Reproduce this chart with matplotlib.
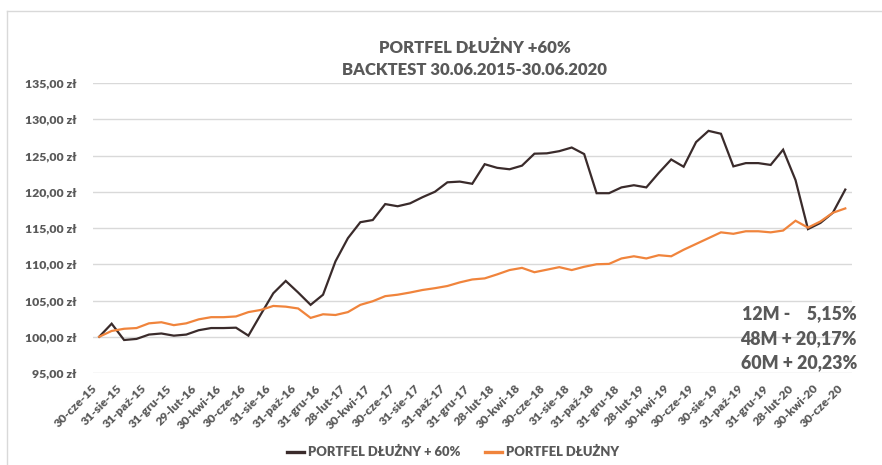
import matplotlib
matplotlib.use("Agg")
import matplotlib.pyplot as plt
from matplotlib.lines import Line2D

plt.rcParams["font.family"] = ["Lato", "DejaVu Sans"]

TEXT = "#595959"
GRID = "#D9D9D9"
DARK = "#3A2B2B"
ORANGE = "#F0843C"

# monthly values, 30.06.2015 - 30.06.2020
portfel_60 = [
	100.0, 101.8, 99.55, 99.7, 100.3, 100.45, 100.15, 100.3, 100.9, 101.2,
	101.2, 101.25, 100.15, 103.1, 106.0, 107.7, 106.1, 104.4, 105.8, 110.4,
	113.6, 115.8, 116.1, 118.3, 118.0, 118.4, 119.25, 120.0, 121.3, 121.4,
	121.1, 123.8, 123.3, 123.1, 123.6, 125.25, 125.3, 125.6, 126.1, 125.2,
	119.8, 119.8, 120.6, 120.9, 120.6, 122.6, 124.45, 123.45, 126.85, 128.4,
	128.0, 123.5, 123.95, 123.95, 123.7, 125.8, 121.6, 114.85, 115.7, 117.1,
	120.3]
portfel = [
	100.0, 100.8, 101.1, 101.2, 101.85, 102.0, 101.6, 101.85, 102.4, 102.7,
	102.7, 102.8, 103.4, 103.7, 104.25, 104.15, 103.9, 102.6, 103.1, 103.0,
	103.4, 104.4, 104.9, 105.6, 105.8, 106.1, 106.45, 106.7, 107.0, 107.5,
	107.9, 108.05, 108.6, 109.2, 109.5, 108.9, 109.25, 109.6, 109.2, 109.65,
	110.0, 110.05, 110.8, 111.1, 110.8, 111.25, 111.1, 112.0, 112.8, 113.6,
	114.4, 114.2, 114.55, 114.55, 114.4, 114.65, 116.0, 115.05, 115.9, 117.1,
	117.7]
date_labels = [
	"30-cze-15", "31-sie-15", "31-paź-15", "31-gru-15", "29-lut-16",
	"30-kwi-16", "30-cze-16", "31-sie-16", "31-paź-16", "31-gru-16",
	"28-lut-17", "30-kwi-17", "30-cze-17", "31-sie-17", "31-paź-17",
	"31-gru-17", "28-lut-18", "30-kwi-18", "30-cze-18", "31-sie-18",
	"31-paź-18", "31-gru-18", "28-lut-19", "30-kwi-19", "30-cze-19",
	"30-sie-19", "31-paź-19", "31-gru-19", "28-lut-20", "30-kwi-20",
	"30-cze-20"]
y_ticks = [95, 100, 105, 110, 115, 120, 125, 130, 135]
returns = ["12M -    5,15%", "48M + 20,17%", "60M + 20,23%"]

W, H = 882, 465
fig = plt.figure(figsize = (W / 100, H / 100), dpi = 100)
ax = fig.add_axes([93 / W, 1 - 373 / H, (851.5 - 93) / W, (373 - 83) / H])

months = list(range(len(portfel_60)))
ax.plot(months, portfel_60, color = DARK, lw = 1.6, label = "PORTFEL DŁUŻNY + 60%",
	solid_joinstyle = "miter")
ax.plot(months, portfel, color = ORANGE, lw = 1.6, label = "PORTFEL DŁUŻNY",
	solid_joinstyle = "miter")

ax.set_xlim(-0.5, len(months) - 0.5)
ax.set_ylim(95, 135)
ax.set_yticks(y_ticks)
ax.set_yticklabels(["%d,00 zł" % v for v in y_ticks], fontsize = 8.8,
	fontweight = "heavy", color = TEXT)
ax.set_xticks(months[::2])
ax.set_xticklabels(date_labels, rotation = 45, ha = "right", fontsize = 8.7,
	fontweight = "heavy", color = TEXT)
ax.tick_params(axis = "both", length = 0)
ax.tick_params(axis = "y", pad = 12)
ax.tick_params(axis = "x", pad = 7)
ax.grid(axis = "y", color = GRID, lw = 1)
ax.set_axisbelow(True)
for s in ax.spines.values(): s.set_visible(False)

fig.text(475 / W, 1 - 48 / H, "PORTFEL DŁUŻNY +60%", ha = "center",
	va = "center", fontsize = 12, fontweight = "heavy", color = TEXT)
fig.text(475 / W, 1 - 70 / H, "BACKTEST 30.06.2015-30.06.2020", ha = "center",
	va = "center", fontsize = 12, fontweight = "heavy", color = TEXT)

for i, txt in enumerate(returns):
	fig.text(857 / W, 1 - (314 + 24.5 * i) / H, txt, ha = "right", va = "center",
		fontsize = 12.8, fontweight = "heavy", color = TEXT)

leg = fig.legend(loc = "center", bbox_to_anchor = (453 / W, 1 - 452 / H),
	ncol = 2, frameon = False, handlelength = 1.3, handletextpad = 0.3,
	columnspacing = 1.9, labelcolor = TEXT,
	prop = {"weight": "heavy", "size": 9.4})
for ln in leg.get_lines(): ln.set_linewidth(2.4)

# chart border (only top and left visible in the crop)
fig.add_artist(Line2D([7 / W, 1], [1 - 11 / H, 1 - 11 / H], color = GRID, lw = 1))
fig.add_artist(Line2D([7 / W, 7 / W], [0, 1 - 11 / H], color = GRID, lw = 1))

fig.savefig("out.png", dpi = 100, facecolor = "white")
